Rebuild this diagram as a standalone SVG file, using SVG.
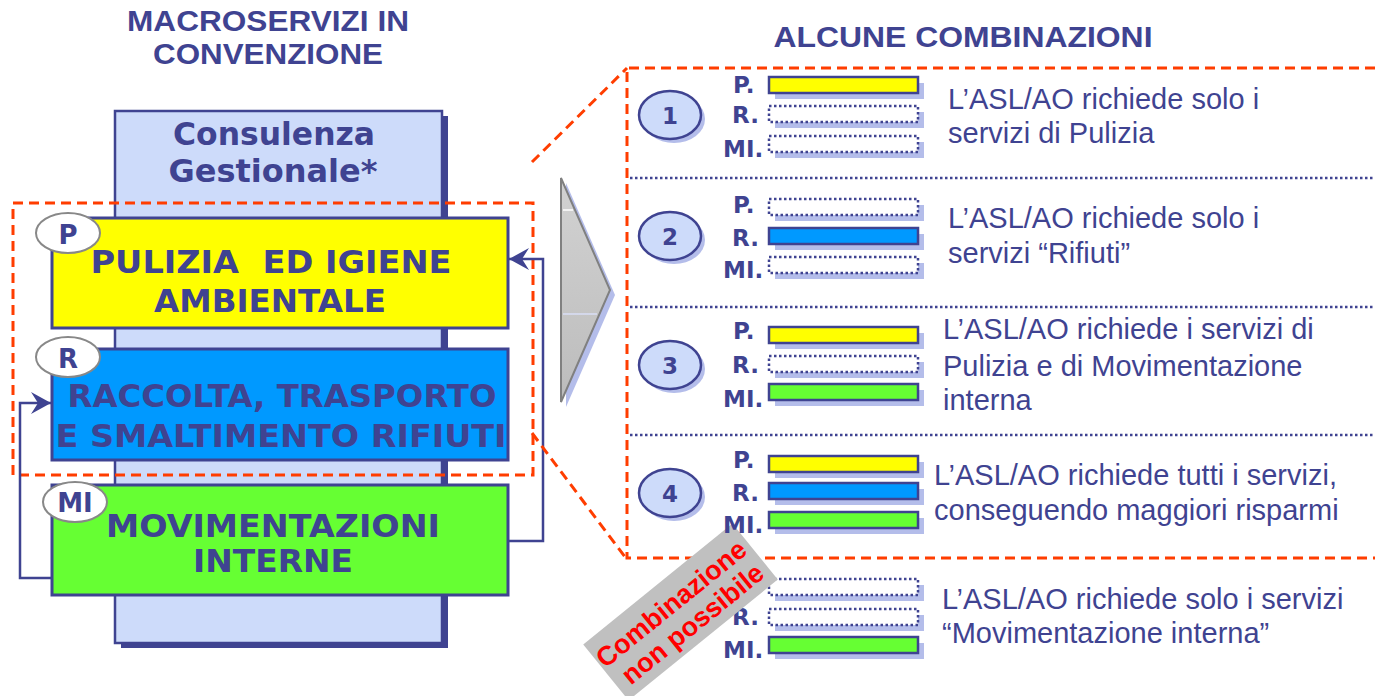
<svg xmlns="http://www.w3.org/2000/svg" width="1375" height="696" viewBox="0 0 1375 696">
<style>
.title{font-family:"Liberation Sans",Arial,sans-serif;font-weight:bold;font-size:29px;fill:#3F4391;text-anchor:middle}
.box{font-family:"DejaVu Sans",Verdana,sans-serif;font-weight:bold;font-size:32px;fill:#3F4391;text-anchor:middle}
.tag{font-family:"DejaVu Sans",Verdana,sans-serif;font-weight:bold;font-size:26px;fill:#3F4391;text-anchor:middle}
.lbl{font-family:"DejaVu Sans",Verdana,sans-serif;font-weight:bold;font-size:23px;fill:#3F4391}
.num{font-family:"DejaVu Sans",Verdana,sans-serif;font-weight:bold;font-size:23px;fill:#3F4391;text-anchor:middle}
.desc{font-family:"Liberation Sans",Arial,sans-serif;font-size:29px;fill:#3F4391}
.red{fill:none;stroke:#FF3D00;stroke-width:3;stroke-dasharray:10 6}
.sep{fill:none;stroke:#3F4391;stroke-width:2.5;stroke-dasharray:2.5 2.5}
.conn{fill:none;stroke:#3F4391;stroke-width:2.5}
.bigbox{stroke:#3F4391;stroke-width:3}
.oval{fill:#FFFFFF;stroke:#888888;stroke-width:2}
.shad{fill:#B4BDEA}
.bar{stroke:#3F4391;stroke-width:2.5}
.empty{fill:#FFFFFF;stroke:#3F4391;stroke-width:2.5;stroke-dasharray:2.5 2.5}
.nov{fill:#CDDBFA;stroke:#3F4391;stroke-width:2.5}
.ban{font-family:"Liberation Sans",Arial,sans-serif;font-weight:bold;font-size:27px;fill:#FF0000;text-anchor:middle}
</style>
<defs>
<marker id="arr" markerUnits="userSpaceOnUse" markerWidth="22" markerHeight="22" refX="20" refY="11" orient="auto" viewBox="0 0 22 22">
<path d="M0,0 L20,11 L0,22 L7,11 Z" fill="#3F4391"/>
</marker>
<linearGradient id="gr" x1="0" y1="0" x2="0" y2="1">
<stop offset="0" stop-color="#D2D2D2"/>
<stop offset="1" stop-color="#BCBCBC"/>
</linearGradient>
</defs>
<rect width="1375" height="696" fill="#FFFFFF"/>

<g id="titles">
<text class="title" x="268" y="31" textLength="282" lengthAdjust="spacingAndGlyphs">MACROSERVIZI IN</text>
<text class="title" x="268" y="64" textLength="230" lengthAdjust="spacingAndGlyphs">CONVENZIONE</text>
<text class="title" x="963" y="47" textLength="379" lengthAdjust="spacingAndGlyphs">ALCUNE COMBINAZIONI</text>
</g>

<g id="consulenza">
<rect x="121" y="116" width="327" height="532" fill="#3F4391"/>
<rect x="115" y="111" width="327" height="532" fill="#CDDBFA" stroke="#3F4391" stroke-width="2.5"/>
<text class="box" x="274" y="145" textLength="202" lengthAdjust="spacingAndGlyphs">Consulenza</text>
<text class="box" x="273" y="182" textLength="209" lengthAdjust="spacingAndGlyphs">Gestionale*</text>
</g>

<g id="selection-left">
<rect class="red" x="13" y="203" width="520" height="272"/>
</g>

<g id="pulizia">
<rect class="bigbox" x="52" y="218" width="456" height="110" fill="#FFFF00"/>
<text class="box" x="271" y="273" textLength="361" lengthAdjust="spacingAndGlyphs" xml:space="preserve">PULIZIA  ED IGIENE</text>
<text class="box" x="270" y="312" textLength="232" lengthAdjust="spacingAndGlyphs">AMBIENTALE</text>
<ellipse class="oval" cx="68" cy="233" rx="32" ry="20"/>
<text class="tag" x="68" y="244">P</text>
</g>

<g id="rifiuti">
<rect class="bigbox" x="52" y="349" width="456" height="111" fill="#0099FF"/>
<text class="box" x="282" y="407" textLength="429" lengthAdjust="spacingAndGlyphs">RACCOLTA, TRASPORTO</text>
<text class="box" x="281" y="447" textLength="451" lengthAdjust="spacingAndGlyphs">E SMALTIMENTO RIFIUTI</text>
<ellipse class="oval" cx="68" cy="357" rx="32" ry="20"/>
<text class="tag" x="68" y="368">R</text>
</g>

<g id="movimentazioni">
<rect class="bigbox" x="52" y="485" width="456" height="110" fill="#66FF33"/>
<text class="box" x="273" y="537" textLength="334" lengthAdjust="spacingAndGlyphs">MOVIMENTAZIONI</text>
<text class="box" x="273" y="572" textLength="160" lengthAdjust="spacingAndGlyphs">INTERNE</text>
<ellipse class="oval" cx="75" cy="502" rx="32" ry="20"/>
<text class="tag" x="75" y="512">MI</text>
</g>

<g id="connectors">
<path class="conn" d="M508,541 H543 V259 H509" marker-end="url(#arr)"/>
<path class="conn" d="M52,578 H20 V403 H51" marker-end="url(#arr)"/>
<path class="red" d="M532,162 L627,68"/>
<path class="red" d="M532,433 L625,557"/>
</g>

<g id="arrow-big">
<polygon points="566,183 615,295 566,407" fill="#B4BDEA"/>
<polygon points="561,178 610,290 561,402" fill="url(#gr)" stroke="#808080" stroke-width="2"/>
<line x1="563" y1="210" x2="573" y2="210" stroke="#FFFFFF" stroke-width="1.5"/>
<line x1="563" y1="314" x2="597" y2="314" stroke="#D8DEF6" stroke-width="1.5"/>
</g>

<g id="combinazioni-frame">
<path class="red" d="M1375,68 H627 V558 H1375"/>
<line class="sep" x1="630" y1="178" x2="1375" y2="178"/>
<line class="sep" x1="630" y1="307" x2="1375" y2="307"/>
<line class="sep" x1="630" y1="435" x2="1375" y2="435"/>
</g>

<g id="comb1">
<ellipse class="shad" cx="674" cy="119" rx="31" ry="24"/>
<ellipse class="nov" cx="670" cy="115" rx="31" ry="24"/>
<text class="num" x="670" y="124">1</text>
<text class="lbl" x="733" y="93">P.</text>
<text class="lbl" x="732" y="123">R.</text>
<text class="lbl" x="723" y="157">MI.</text>
<rect class="shad" x="775" y="83" width="149" height="16"/>
<rect class="bar" x="769" y="77" width="149" height="16" fill="#FFFF00"/>
<rect class="shad" x="775" y="112" width="149" height="16"/>
<rect class="empty" x="769" y="106" width="149" height="16"/>
<rect class="shad" x="775" y="142" width="149" height="16"/>
<rect class="empty" x="769" y="136" width="149" height="16"/>
<text class="desc" x="948" y="109">L’ASL/AO richiede solo i</text>
<text class="desc" x="948" y="143">servizi di Pulizia</text>
</g>

<g id="comb2">
<ellipse class="shad" cx="674" cy="240" rx="31" ry="24"/>
<ellipse class="nov" cx="670" cy="236" rx="31" ry="24"/>
<text class="num" x="670" y="245">2</text>
<text class="lbl" x="733" y="213">P.</text>
<text class="lbl" x="732" y="246">R.</text>
<text class="lbl" x="723" y="278">MI.</text>
<rect class="shad" x="775" y="205" width="149" height="16"/>
<rect class="empty" x="769" y="199" width="149" height="16"/>
<rect class="shad" x="775" y="234" width="149" height="16"/>
<rect class="bar" x="769" y="228" width="149" height="16" fill="#0099FF"/>
<rect class="shad" x="775" y="263" width="149" height="16"/>
<rect class="empty" x="769" y="257" width="149" height="16"/>
<text class="desc" x="948" y="228">L’ASL/AO richiede solo i</text>
<text class="desc" x="948" y="263">servizi “Rifiuti”</text>
</g>

<g id="comb3">
<ellipse class="shad" cx="674" cy="369" rx="31" ry="24"/>
<ellipse class="nov" cx="670" cy="365" rx="31" ry="24"/>
<text class="num" x="670" y="374">3</text>
<text class="lbl" x="733" y="339">P.</text>
<text class="lbl" x="732" y="373">R.</text>
<text class="lbl" x="723" y="407">MI.</text>
<rect class="shad" x="775" y="333" width="149" height="16"/>
<rect class="bar" x="769" y="327" width="149" height="16" fill="#FFFF00"/>
<rect class="shad" x="775" y="362" width="149" height="16"/>
<rect class="empty" x="769" y="356" width="149" height="16"/>
<rect class="shad" x="775" y="390" width="149" height="16"/>
<rect class="bar" x="769" y="384" width="149" height="16" fill="#66FF33"/>
<text class="desc" x="943" y="339">L’ASL/AO richiede i servizi di</text>
<text class="desc" x="943" y="376">Pulizia e di Movimentazione</text>
<text class="desc" x="943" y="410">interna</text>
</g>

<g id="comb5">
<text class="lbl" x="733" y="596">P.</text>
<text class="lbl" x="732" y="625">R.</text>
<text class="lbl" x="723" y="658">MI.</text>
<rect class="shad" x="775" y="585" width="149" height="16"/>
<rect class="empty" x="769" y="579" width="149" height="16"/>
<rect class="shad" x="775" y="615" width="149" height="16"/>
<rect class="empty" x="769" y="609" width="149" height="16"/>
<rect class="shad" x="775" y="643" width="149" height="16"/>
<rect class="bar" x="769" y="637" width="149" height="16" fill="#66FF33"/>
<text class="desc" x="942" y="609">L’ASL/AO richiede solo i servizi</text>
<text class="desc" x="942" y="643">“Movimentazione interna”</text>
</g>

<g id="banner" transform="translate(680.5,612) rotate(-39)">
<rect x="-96" y="-36" width="192" height="72" fill="#C0C0C0"/>
<text class="ban" x="-2" y="-3">Combinazione</text>
<text class="ban" x="2" y="26">non possibile</text>
</g>

<g id="comb4">
<ellipse class="shad" cx="674" cy="497" rx="31" ry="24"/>
<ellipse class="nov" cx="670" cy="493" rx="31" ry="24"/>
<text class="num" x="670" y="502">4</text>
<text class="lbl" x="733" y="468">P.</text>
<text class="lbl" x="732" y="501">R.</text>
<text class="lbl" x="723" y="533">MI.</text>
<rect class="shad" x="775" y="462" width="149" height="16"/>
<rect class="bar" x="769" y="456" width="149" height="16" fill="#FFFF00"/>
<rect class="shad" x="775" y="489" width="149" height="16"/>
<rect class="bar" x="769" y="483" width="149" height="16" fill="#0099FF"/>
<rect class="shad" x="775" y="518" width="149" height="16"/>
<rect class="bar" x="769" y="512" width="149" height="16" fill="#66FF33"/>
<text class="desc" x="934" y="485">L’ASL/AO richiede tutti i servizi,</text>
<text class="desc" x="934" y="520">conseguendo maggiori risparmi</text>
</g>
</svg>
